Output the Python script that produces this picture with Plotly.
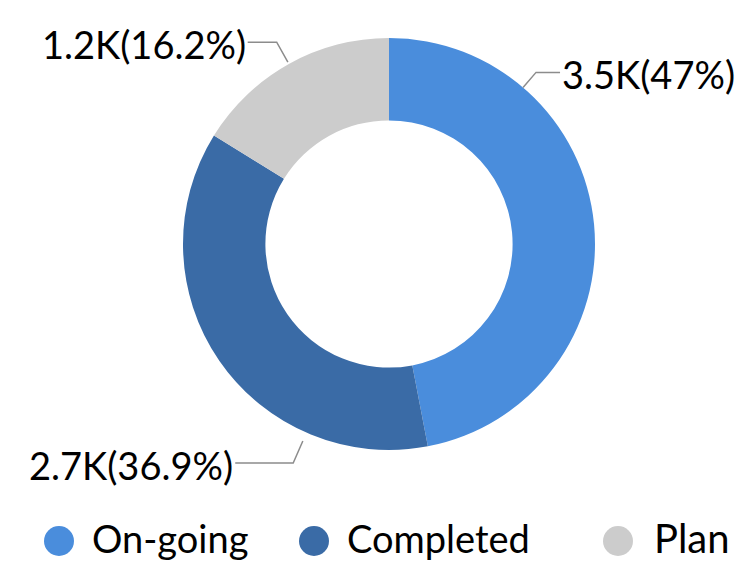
import math
import plotly.graph_objects as go

# ---- data ----
categories = ["On-going", "Completed", "Plan"]
values = [3500, 2746, 1204]
colors = ["#4A8DDC", "#3A6BA6", "#CCCCCC"]

# ---- layout constants (pixels) ----
W, H = 737, 561
CX, CY, R = 389, 244, 206
HOLE = 0.60
FONT = "Lato, 'Open Sans', sans-serif"
LABEL_SIZE = 38
LEGEND_SIZES = [38, 38, 40]

# leader-line style per label: position within slice, start offset, elbow offset, horizontal length
leader_frac = [0.24, 0.26, 0.5]
leader_start = [0, 9, 2]
leader_elbow = [20, 33, 25]
leader_horiz = [24, 58, 29]

# legend placement (pixels)
legend_circle_x = [59, 314, 618]
legend_text_x = [90, 345, 652]
legend_circle_y = 541
legend_text_y = 538


def px(x):
    return x / W


def py(y):
    return 1 - y / H


def fmt_k(v):
    return f"{v/1000:.1f}K"


def fmt_pct(p):
    s = f"{p:.1f}"
    if s.endswith(".0"):
        s = s[:-2]
    return s + "%"


total = sum(values)

fig = go.Figure()
fig.add_trace(go.Pie(
    labels=categories,
    values=values,
    hole=HOLE,
    sort=False,
    direction="clockwise",
    rotation=0,
    marker=dict(colors=colors, line=dict(color="white", width=0)),
    textinfo="none",
    hoverinfo="label+value+percent",
    showlegend=False,
    domain=dict(x=[px(CX - R), px(CX + R)], y=[py(CY + R), py(CY - R)]),
))

shapes = []
annotations = []
cum = 0.0
for i, (cat, v) in enumerate(zip(categories, values)):
    frac = v / total
    ang = (cum + frac * leader_frac[i]) * 2 * math.pi
    cum += frac
    sx, sy = math.sin(ang), -math.cos(ang)
    r0 = R + leader_start[i]
    r1 = R + leader_elbow[i]
    x0, y0 = CX + r0 * sx, CY + r0 * sy
    x1, y1 = CX + r1 * sx, CY + r1 * sy
    side = 1 if sx >= 0 else -1
    x2 = x1 + side * leader_horiz[i]
    shapes.append(dict(
        type="path", xref="paper", yref="paper",
        path=f"M {px(x0)},{py(y0)} L {px(x1)},{py(y1)} L {px(x2)},{py(y1)}",
        line=dict(color="#8C8C8C", width=1.5),
    ))
    pct = 100 * v / total
    annotations.append(dict(
        x=px(x2), y=py(y1 + 2), xref="paper", yref="paper",
        text=f"{fmt_k(v)}({fmt_pct(pct)})",
        showarrow=False,
        xanchor="left" if side > 0 else "right", yanchor="middle",
        font=dict(family=FONT, size=LABEL_SIZE, color="#000000"),
    ))

# legend (circles + text)
for i, cat in enumerate(categories):
    shapes.append(dict(
        type="circle", xref="paper", yref="paper",
        xsizemode="pixel", ysizemode="pixel",
        xanchor=px(legend_circle_x[i]), yanchor=py(legend_circle_y),
        x0=-15, x1=15, y0=-15, y1=15,
        fillcolor=colors[i], line=dict(width=0),
    ))
    annotations.append(dict(
        x=px(legend_text_x[i]), y=py(legend_text_y), xref="paper", yref="paper",
        text=cat, showarrow=False, xanchor="left", yanchor="middle",
        font=dict(family=FONT, size=LEGEND_SIZES[i], color="#000000"),
    ))

fig.update_layout(
    width=W, height=H,
    margin=dict(l=0, r=0, t=0, b=0),
    paper_bgcolor="white", plot_bgcolor="white",
    shapes=shapes, annotations=annotations,
    showlegend=False,
)

fig.write_html(
    "out.html",
    config={"displayModeBar": False},
    post_script="document.body.style.margin='0';document.body.style.padding='0';document.body.style.overflow='hidden';",
)
